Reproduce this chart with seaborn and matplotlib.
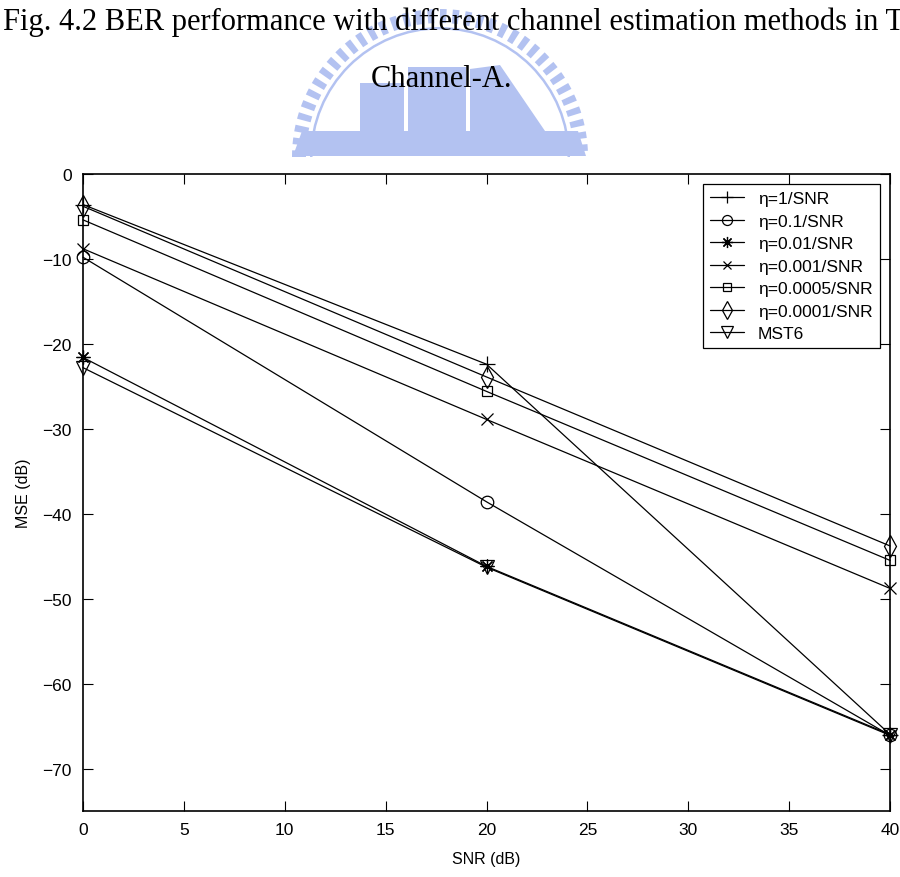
import pandas as pd
import seaborn as sns
import matplotlib.pyplot as plt
from matplotlib.patches import Wedge, Rectangle, Polygon

# data (MSE in dB at SNR = 0, 20, 40 dB)
snr = [0, 20, 40]
labels = ['\u03b7=1/SNR', '\u03b7=0.1/SNR', '\u03b7=0.01/SNR', '\u03b7=0.001/SNR',
          '\u03b7=0.0005/SNR', '\u03b7=0.0001/SNR', 'MST6']
mse_eta1 = [-3.6, -22.4, -66.0]
mse_eta01 = [-9.8, -38.6, -66.1]
mse_eta001 = [-21.6, -46.2, -66.0]
mse_eta0001 = [-8.8, -28.9, -48.8]
mse_eta00005 = [-5.4, -25.6, -45.5]
mse_eta00001 = [-3.8, -23.9, -43.8]
mse_mst6 = [-22.8, -46.3, -66.1]
series = [mse_eta1, mse_eta01, mse_eta001, mse_eta0001, mse_eta00005, mse_eta00001, mse_mst6]
markers = ['+', 'o', (8, 2, 0), 'x', 's', 'd', 'v']
sizes = [11, 9, 10, 8, 7, 11, 10]

xticks = list(range(0, 45, 5))
yticks = [0, -10, -20, -30, -40, -50, -60, -70]

sns.set_style("ticks", {'axes.edgecolor': 'black', 'text.color': 'black',
                        'xtick.color': 'black', 'ytick.color': 'black',
                        'axes.labelcolor': 'black'})
plt.rcParams['font.family'] = ['Liberation Sans', 'DejaVu Sans']

fig = plt.figure(figsize=(9, 8.78), dpi=100)

# faint logo watermark behind the caption (page scan); y axis runs downward here
wm = fig.add_axes([0, 0.8, 1, 0.2])
wm.set_xlim(0, 900)
wm.set_ylim(175.6, 0)
wm.axis('off')
wcol = '#b3c2f1'
a = 180
while a < 360:
    wm.add_patch(Wedge((440, 158), 148, a, a + 2.6, width=14, color=wcol, lw=0))
    a += 5
wm.add_patch(Wedge((440, 158), 130, 180, 360, width=2.5, color=wcol, lw=0))
wm.add_patch(Polygon([(293, 157), (302, 132), (578, 132), (586, 157)], color=wcol, lw=0))
wm.add_patch(Rectangle((360, 84), 44, 48, color=wcol, lw=0))
wm.add_patch(Rectangle((408, 68), 58, 64, color=wcol, lw=0))
wm.add_patch(Polygon([(470, 132), (470, 70), (500, 66), (545, 132)], color=wcol, lw=0))

fig.text(0.003, 0.975, 'Fig. 4.2 BER performance with different channel estimation methods in TDS-OFDM',
         family='Liberation Serif', fontsize=22, va='center', ha='left', color='black')
fig.text(0.491, 0.909, 'Channel-A.', family='Liberation Serif', fontsize=22, va='center',
         ha='center', color='black')

ax = fig.add_axes([0.0922, 0.0752, 0.8968, 0.7255])
for lab, vals, m, ms in zip(labels, series, markers, sizes):
    df = pd.DataFrame({'snr': snr, 'mse': vals})
    sns.lineplot(data=df, x='snr', y='mse', ax=ax, color='black', lw=0.9,
                 marker=m, markersize=ms, markerfacecolor='none',
                 markeredgecolor='black', markeredgewidth=0.9, label=lab,
                 clip_on=False, zorder=3)

ax.set_xlim(0, 40)
ax.set_ylim(-75, 0)
ax.set_xticks(xticks)
ax.set_yticks(yticks)
ax.set_yticklabels(['0'] + ['\u2212%d' % (-v) for v in yticks[1:]])
ax.tick_params(direction='in', top=True, right=True, length=7, width=0.8, labelsize=12.5, pad=8)
for s in ax.spines.values():
    s.set_linewidth(1.2)
ax.set_xlabel('SNR (dB)', fontsize=11.5, labelpad=10)
ax.set_ylabel('MSE (dB)', fontsize=11.5, labelpad=8)

leg = ax.legend(loc='upper right', fontsize=12.5, frameon=True, fancybox=False,
                edgecolor='black', framealpha=1, handlelength=2.0, borderaxespad=0.6,
                labelspacing=0.42, markerscale=0.8)
leg.get_frame().set_linewidth(0.9)
leg.set_zorder(5)

fig.savefig('out.png', dpi=100)
